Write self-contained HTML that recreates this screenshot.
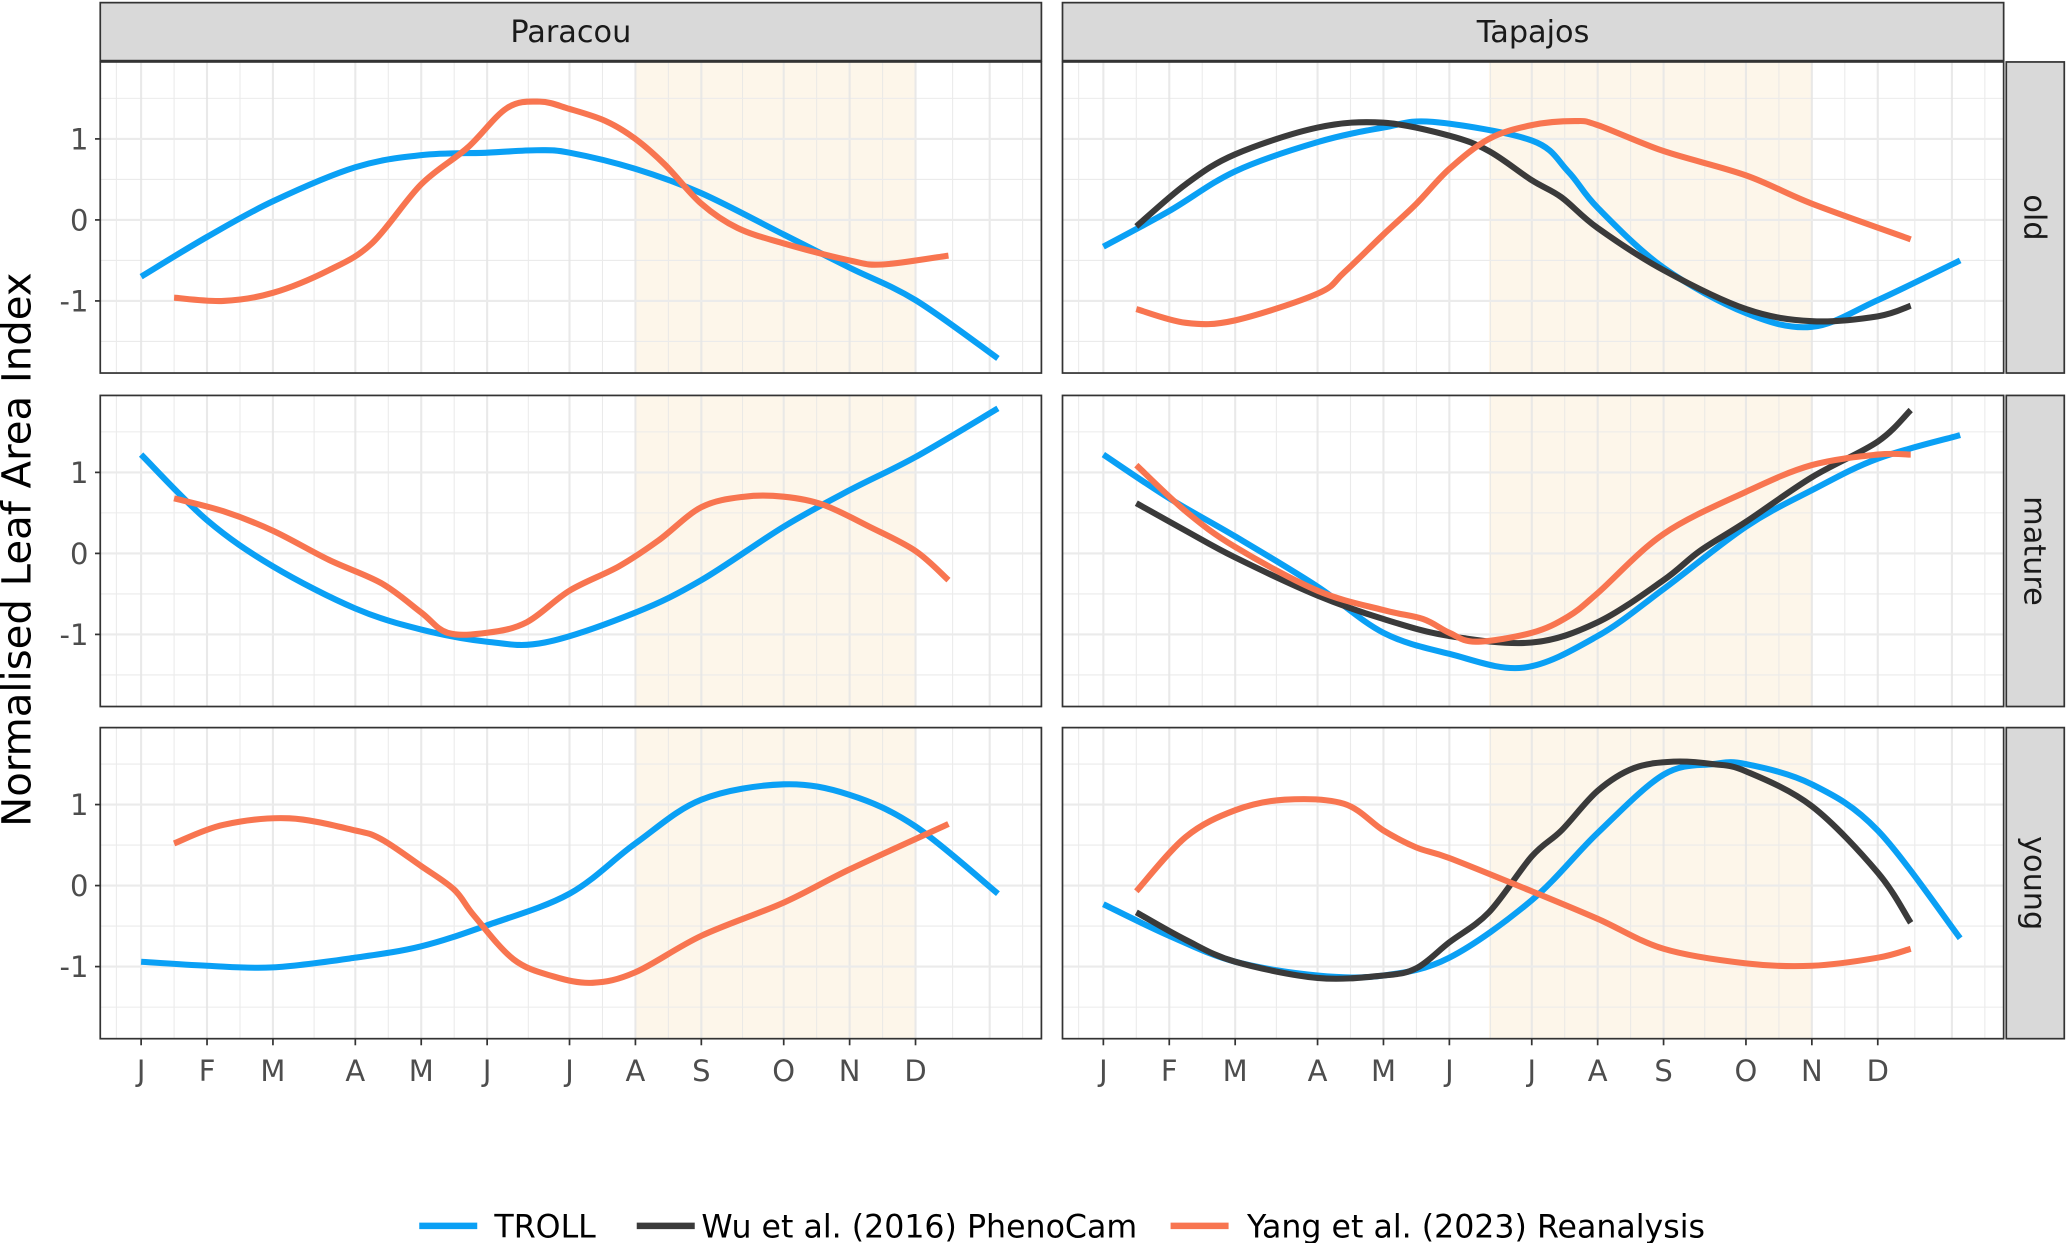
<!DOCTYPE html>
<html><head><meta charset="utf-8"><style>
html,body{margin:0;padding:0;background:#fff;}
svg{display:block;font-family:"DejaVu Sans","Liberation Sans",sans-serif;}
</style></head><body>
<svg id="chart" xmlns="http://www.w3.org/2000/svg" width="2067" height="1243" viewBox="0 0 1568 943">
<g id="grid-layer"></g>
<g id="series-layer"></g>
<g id="frame-layer"></g>
<text transform="translate(23,417) rotate(-90)" text-anchor="middle" font-size="30.5" fill="#000">Normalised Leaf Area Index</text>
<g>
  <line x1="318" y1="930" x2="362" y2="930" stroke="#0AA0F5" stroke-width="5"/>
  <text x="375" y="939" font-size="24">TROLL</text>
  <line x1="483" y1="930" x2="527" y2="930" stroke="#3a3a3a" stroke-width="5"/>
  <text x="532" y="939" font-size="24">Wu et al. (2016) PhenoCam</text>
  <line x1="888" y1="930" x2="932" y2="930" stroke="#F87550" stroke-width="5"/>
  <text x="946" y="939" font-size="24">Yang et al. (2023) Reanalysis</text>
</g>
</svg>
<script>
// x in weeks of year, y normalised LAI
const monthLabels = ["J","F","M","A","M","J","J","A","S","O","N","D"];
const monthWeeks = [1,5,9,14,18,22,27,31,35,40,44,48];
const sites = ["Paracou","Tapajos"];
const ages = ["old","mature","young"];
const yTicks = [-1,0,1];
const drySeasonParacou = [31,48];
const drySeasonTapajos = [24.4,44];

const paracouOldTrollW = [1,5,9,14,18,22,25,27,31,35,40,44,48,53];
const paracouOldTrollV = [-0.70,-0.21,0.23,0.65,0.80,0.83,0.86,0.83,0.63,0.33,-0.18,-0.59,-0.99,-1.71];
const paracouOldYangW = [3,6,9,12.4,15,18,20.8,23.2,25.2,27,29.2,31,32.8,35,37.2,40,44,46,50];
const paracouOldYangV = [-0.96,-1.0,-0.9,-0.62,-0.29,0.44,0.89,1.38,1.46,1.37,1.22,1.0,0.68,0.2,-0.1,-0.29,-0.5,-0.55,-0.44];

const tapajosOldTrollW = [1,5,9,14,18,21,27,29.2,31,35,40,44,48,53];
const tapajosOldTrollV = [-0.33,0.11,0.6,0.96,1.14,1.21,0.98,0.6,0.15,-0.59,-1.15,-1.32,-0.99,-0.5];
const tapajosOldWuW = [3,6,9,14,18,22,24.4,27,28.8,31,35,40,44,48,50];
const tapajosOldWuV = [-0.08,0.44,0.81,1.14,1.2,1.04,0.85,0.49,0.28,-0.1,-0.62,-1.1,-1.25,-1.19,-1.06];
const tapajosOldYangW = [3,6,9,14,15.6,18,20,22,24.4,27,29.6,31,35,40,44,50];
const tapajosOldYangV = [-1.1,-1.27,-1.24,-0.91,-0.65,-0.18,0.2,0.63,1.0,1.17,1.22,1.17,0.85,0.55,0.2,-0.24];

const paracouMatureTrollW = [1,5,9,14,18,22,25.5,31,35,40,44,48,53];
const paracouMatureTrollV = [1.22,0.41,-0.16,-0.68,-0.94,-1.09,-1.1,-0.73,-0.33,0.33,0.78,1.19,1.79];
const paracouMatureYangW = [3,6,9,12.4,15.6,18,19.6,22,24.4,27,30,32.4,35,37.6,40,42.4,45.2,48,50];
const paracouMatureYangV = [0.68,0.52,0.28,-0.08,-0.37,-0.73,-0.98,-0.98,-0.85,-0.46,-0.16,0.16,0.57,0.7,0.7,0.6,0.33,0.03,-0.33];

const tapajosMatureTrollW = [1,5,9,14,18,22,26.5,31,35,40,44,48,53];
const tapajosMatureTrollV = [1.22,0.68,0.21,-0.41,-0.98,-1.24,-1.41,-1.02,-0.44,0.33,0.78,1.17,1.46];
const tapajosMatureWuW = [3,6,9,14,18,22,27,31,35,37.2,40,44,48,50];
const tapajosMatureWuV = [0.62,0.28,-0.05,-0.52,-0.81,-1.02,-1.1,-0.85,-0.33,0.03,0.39,0.94,1.38,1.77];
const tapajosMatureYangW = [3,6,9,14,18,20.4,22,23.6,27,29.2,31,35,40,44,48,50];
const tapajosMatureYangV = [1.09,0.52,0.08,-0.46,-0.7,-0.81,-0.98,-1.09,-0.98,-0.78,-0.49,0.24,0.76,1.09,1.22,1.22];

const paracouYoungTrollW = [1,5,9,14,18,22,27,31,35,40,44,48,53];
const paracouYoungTrollV = [-0.94,-0.99,-1.01,-0.89,-0.75,-0.49,-0.1,0.52,1.06,1.25,1.12,0.73,-0.1];
const paracouYoungYangW = [3,6,10,14,15.6,18,20,21.2,23.6,26,28.4,31,35,40,44,50];
const paracouYoungYangV = [0.52,0.75,0.83,0.68,0.57,0.24,-0.05,-0.37,-0.91,-1.12,-1.2,-1.07,-0.62,-0.21,0.2,0.76];

const tapajosYoungTrollW = [1,5,9,14,18,22,27,31,35,38,40,44,48,53];
const tapajosYoungTrollV = [-0.23,-0.62,-0.94,-1.11,-1.11,-0.89,-0.18,0.65,1.37,1.5,1.5,1.25,0.68,-0.65];
const tapajosYoungWuW = [3,6,9,14,18,20,22,24.4,27,28.8,31,33.2,35.6,38,40,44,48,50];
const tapajosYoungWuV = [-0.33,-0.67,-0.94,-1.14,-1.11,-1.02,-0.7,-0.33,0.36,0.68,1.17,1.45,1.53,1.5,1.41,0.98,0.16,-0.46];
const tapajosYoungYangW = [3,6,9,12,15.6,18,20,22,27,31,35,40,44,48,50];
const tapajosYoungYangV = [-0.07,0.6,0.93,1.06,1.01,0.68,0.47,0.34,-0.07,-0.41,-0.78,-0.96,-0.99,-0.89,-0.78];

const panelSeries = {
  "Paracou-old":[["troll",paracouOldTrollW,paracouOldTrollV],["yang",paracouOldYangW,paracouOldYangV]],
  "Tapajos-old":[["troll",tapajosOldTrollW,tapajosOldTrollV],["wu",tapajosOldWuW,tapajosOldWuV],["yang",tapajosOldYangW,tapajosOldYangV]],
  "Paracou-mature":[["troll",paracouMatureTrollW,paracouMatureTrollV],["yang",paracouMatureYangW,paracouMatureYangV]],
  "Tapajos-mature":[["troll",tapajosMatureTrollW,tapajosMatureTrollV],["wu",tapajosMatureWuW,tapajosMatureWuV],["yang",tapajosMatureYangW,tapajosMatureYangV]],
  "Paracou-young":[["troll",paracouYoungTrollW,paracouYoungTrollV],["yang",paracouYoungYangW,paracouYoungYangV]],
  "Tapajos-young":[["troll",tapajosYoungTrollW,tapajosYoungTrollV],["wu",tapajosYoungWuW,tapajosYoungWuV],["yang",tapajosYoungYangW,tapajosYoungYangV]]
};

const colors = {troll:"#0AA0F5", wu:"#3a3a3a", yang:"#F87550"};
const NS = "http://www.w3.org/2000/svg";
const panelLefts = [76, 806], panelW = 714;
const panelTops = [47, 300, 552], panelH = 236;
const xDomain = [-1.48, 55.64], yDomain = [-1.89, 1.95];

function mk(tag, attrs, parent){const e=document.createElementNS(NS,tag);for(const k in attrs)e.setAttribute(k,attrs[k]);parent.appendChild(e);return e;}
function xScale(c,w){return panelLefts[c]+(w-xDomain[0])/(xDomain[1]-xDomain[0])*panelW;}
function yScale(r,v){return panelTops[r]+panelH-(v-yDomain[0])/(yDomain[1]-yDomain[0])*panelH;}
function smoothPath(pts){
  let d="M"+pts[0][0].toFixed(2)+","+pts[0][1].toFixed(2);
  for(let i=0;i<pts.length-1;i++){
    const p0=pts[i-1]||pts[i],p1=pts[i],p2=pts[i+1],p3=pts[i+2]||p2;
    const c1=[p1[0]+(p2[0]-p0[0])/6,p1[1]+(p2[1]-p0[1])/6];
    const c2=[p2[0]-(p3[0]-p1[0])/6,p2[1]-(p3[1]-p1[1])/6];
    d+="C"+c1[0].toFixed(2)+","+c1[1].toFixed(2)+" "+c2[0].toFixed(2)+","+c2[1].toFixed(2)+" "+p2[0].toFixed(2)+","+p2[1].toFixed(2);
  }
  return d;
}
const grid=document.getElementById('grid-layer'), ser=document.getElementById('series-layer'), frame=document.getElementById('frame-layer');
const majorW = monthWeeks.concat([52.5]);
const minorW = [-0.5];
for(let i=0;i<majorW.length-1;i++) minorW.push((majorW[i]+majorW[i+1])/2);
minorW.push(54.5);

for(let c=0;c<2;c++){
  const L=panelLefts[c];
  const strip=mk('rect',{x:L,y:2,width:panelW,height:44,fill:'#d9d9d9',stroke:'#333','stroke-width':1.3},frame);
  
  
  const st=mk('text',{x:L+panelW/2,y:32,'text-anchor':'middle','font-size':23,fill:'#1a1a1a'},frame);
  st.textContent=sites[c];
  
  
  for(let r=0;r<3;r++){
    const T=panelTops[r];
    const bg=mk('rect',{x:L,y:T,width:panelW,height:panelH,fill:'#fff'},grid);
    
    
    const dry = c===0?drySeasonParacou:drySeasonTapajos;
    const sh=mk('rect',{x:xScale(c,dry[0]),y:T,width:xScale(c,dry[1])-xScale(c,dry[0]),height:panelH,fill:'#FDF6EA'},grid);
    
    
    minorW.forEach(w=>{const l=mk('line',{x1:xScale(c,w),x2:xScale(c,w),y1:T,y2:T+panelH,stroke:'#e6e6e6','stroke-width':0.8,opacity:0.8},grid);
      });
    [-1.5,-0.5,0.5,1.5].forEach(v=>{const l=mk('line',{x1:L,x2:L+panelW,y1:yScale(r,v),y2:yScale(r,v),stroke:'#ebebeb','stroke-width':0.8},grid);
      });
    majorW.forEach(w=>{const l=mk('line',{x1:xScale(c,w),x2:xScale(c,w),y1:T,y2:T+panelH,stroke:'#e6e6e6','stroke-width':1.6,opacity:0.85},grid);
      });
    yTicks.forEach(v=>{const l=mk('line',{x1:L,x2:L+panelW,y1:yScale(r,v),y2:yScale(r,v),stroke:'#ebebeb','stroke-width':1.6},grid);
      });
    const key=sites[c]+'-'+ages[r];
    panelSeries[key].forEach(s=>{
      const pts=s[1].map((w,i)=>[xScale(c,w),yScale(r,s[2][i])]);
      const p=mk('path',{d:smoothPath(pts),fill:'none',stroke:colors[s[0]],'stroke-width':4.6,'stroke-linejoin':'round'},ser);
      
      
    });
    const bd=mk('rect',{x:L,y:T,width:panelW,height:panelH,fill:'none',stroke:'#333','stroke-width':1.3},frame);
    
    
    if(c===0){
      yTicks.forEach(v=>{
        const tk=mk('line',{x1:L-4,x2:L,y1:yScale(r,v),y2:yScale(r,v),stroke:'#333','stroke-width':1.3},frame);
        
        const t=mk('text',{x:L-9,y:yScale(r,v)+8,'text-anchor':'end','font-size':22,fill:'#4d4d4d'},frame);
        t.textContent=String(v);
        
      });
    }
    if(c===1){
      const rs=mk('rect',{x:1522,y:T,width:44,height:panelH,fill:'#d9d9d9',stroke:'#333','stroke-width':1.3},frame);
      
      const rt=mk('text',{transform:'translate(1536,'+(T+panelH/2)+') rotate(90)','text-anchor':'middle','font-size':23,fill:'#1a1a1a'},frame);
      rt.textContent=ages[r];
      
    }
  }
  const B=panelTops[2]+panelH;
  monthWeeks.forEach((w,i)=>{
    const tk=mk('line',{x1:xScale(c,w),x2:xScale(c,w),y1:B,y2:B+5,stroke:'#333','stroke-width':1.3},frame);
    
    const t=mk('text',{x:xScale(c,w),y:B+32,'text-anchor':'middle','font-size':22,fill:'#4d4d4d'},frame);
    t.textContent=monthLabels[i];
    
  });
}
</script>
</body></html>
